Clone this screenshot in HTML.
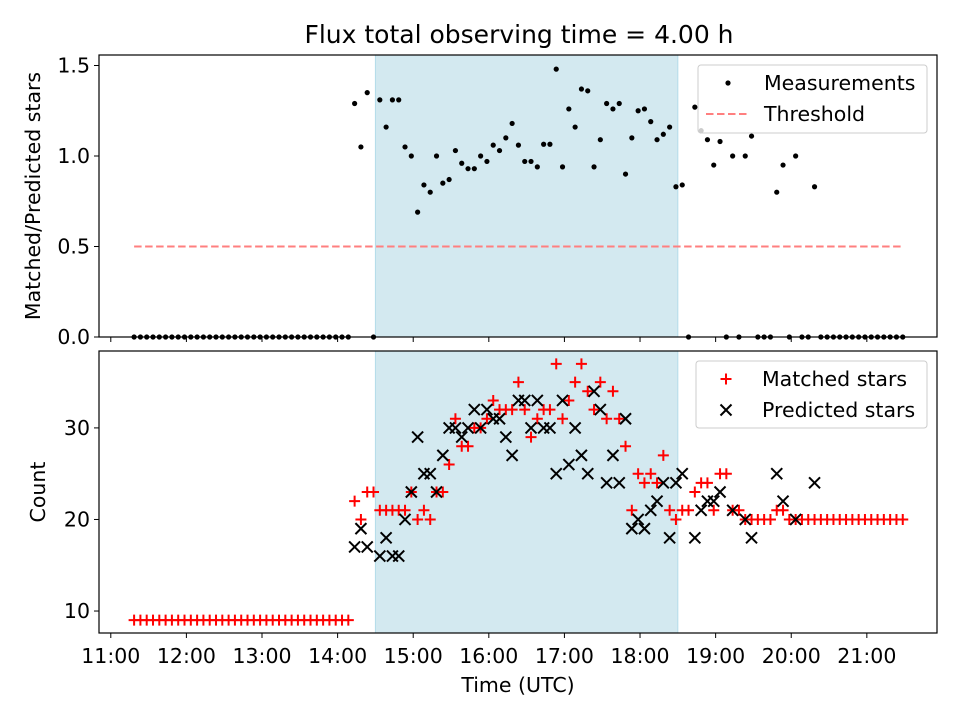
<!DOCTYPE html>
<html><head><meta charset="utf-8"><style>
html,body{margin:0;padding:0;background:#fff;}
svg{display:block;font-family:"DejaVu Sans","Liberation Sans",sans-serif;}
</style></head><body>
<svg id="chart" width="960" height="720" viewBox="0 0 960 720"></svg>
<script>
// ---- data ----
const startMinutes = 678.5;
const stepMinutes = 5;
const spanStart = 14.5, spanEnd = 18.5;
const threshold = 0.5;
const ratioValues = [0,0,0,0,0,0,0,0,0,0,0,0,0,0,0,0,0,0,0,0,0,0,0,0,0,0,0,0,0,0,0,0,0,0,0,
1.29,1.05,1.35,0,1.31,1.16,1.31,1.31,1.05,1.00,0.69,0.84,0.80,1.00,0.85,0.87,1.03,0.96,0.93,0.93,1.00,0.97,1.06,1.03,1.10,1.18,1.06,0.97,0.97,0.94,1.065,1.065,1.48,0.94,1.26,1.16,1.37,1.36,0.94,1.09,1.29,1.26,1.29,0.90,1.10,1.25,1.26,1.19,1.09,1.12,1.16,0.83,0.84,0,1.27,1.14,1.09,0.95,1.08,0,1.00,0,1.00,1.11,0,0,0,0.80,0.95,0,1.00,0,0,0.83,
0,0,0,0,0,0,0,0,0,0,0,0,0,0];
const matchedValues = [9,9,9,9,9,9,9,9,9,9,9,9,9,9,9,9,9,9,9,9,9,9,9,9,9,9,9,9,9,9,9,9,9,9,9,
22,20,23,23,21,21,21,21,21,23,20,21,20,23,23,26,31,28,28,30,30,31,33,32,32,32,35,32,29,31,32,32,37,31,33,35,37,34,32,35,31,34,31,28,21,25,24,25,24,27,21,20,21,21,23,24,24,21,25,25,21,21,20,20,20,20,20,21,21,20,
20,20,20,20,20,20,20,20,20,20,20,20,20,20,20,20,20,20];
const predictedValues = [null,null,null,null,null,null,null,null,null,null,null,null,null,null,null,null,null,null,null,null,null,null,null,null,null,null,null,null,null,null,null,null,null,null,null,
17,19,17,null,16,18,16,16,20,23,29,25,25,23,27,30,30,29,30,32,30,32,31,31,29,27,33,33,30,33,30,30,25,33,26,30,27,25,34,32,24,27,24,31,19,20,19,21,22,24,18,24,25,null,18,21,22,22,23,null,21,null,20,18,null,null,null,25,22,null,20,null,null,24];
const xTickLabels = ["11:00","12:00","13:00","14:00","15:00","16:00","17:00","18:00","19:00","20:00","21:00"];
const xTickHours = [11,12,13,14,15,16,17,18,19,20,21];
const topYTicks = [0.0,0.5,1.0,1.5];
const bottomYTicks = [10,20,30];

// ---- layout ----
const NS="http://www.w3.org/2000/svg";
const svg=document.getElementById('chart');
const L=99,R=937,T1=55,B1=337,T2=351,B2=633;
const FS='20.5';
const xMin=10.844,xMax=21.928;
const xs=h=>L+(h-xMin)/(xMax-xMin)*(R-L);
const ys1=v=>B1-(v-0)/(1.558-0)*(B1-T1);
const ys2=v=>B2-(v-7.6)/(38.4-7.6)*(B2-T2);
const hourAt=i=>(startMinutes+i*stepMinutes)/60;
function el(tag,attrs,parent){const e=document.createElementNS(NS,tag);for(const k in attrs)e.setAttribute(k,attrs[k]);(parent||svg).appendChild(e);return e;}
function txt(s,attrs,parent){const e=el('text',attrs,parent);e.textContent=s;return e;}

const title=txt('Flux total observing time = 4.00 h',{x:519,y:43,'text-anchor':'middle','font-size':'25'});



function panel(T,B,ys,yticks,fmt,name,showXLabels){
  const g=el('g',{});
  
  
  const span=el('rect',{x:xs(spanStart),y:T,width:xs(spanEnd)-xs(spanStart),height:B-T,fill:'#d3e9f0',stroke:'#b4dcea','stroke-width':1},g);
  
  
  xTickHours.forEach((h,i)=>{
    el('line',{x1:xs(h),x2:xs(h),y1:B,y2:B+5,stroke:'#000','stroke-width':1},g);
    if(showXLabels){const t=txt(xTickLabels[i],{x:xs(h),y:B+30,'text-anchor':'middle','font-size':FS},g);
      
      }
  });
  yticks.forEach(v=>{
    el('line',{x1:L-5,x2:L,y1:ys(v),y2:ys(v),stroke:'#000','stroke-width':1},g);
    const t=txt(fmt(v),{x:L-9,y:ys(v)+7,'text-anchor':'end','font-size':FS},g);
    
    
  });
  return g;
}
const g1=panel(T1,B1,ys1,topYTicks,v=>v.toFixed(1),'ratio-panel',false);
const g2=panel(T2,B2,ys2,bottomYTicks,v=>String(v),'count-panel',true);

const th=el('line',{x1:xs(hourAt(0)),x2:xs(hourAt(ratioValues.length-1)),y1:ys1(threshold),y2:ys1(threshold),stroke:'#ff7f7f','stroke-width':2,'stroke-dasharray':'7.5,3.5'},g1);



ratioValues.forEach((v,i)=>{
  const c=el('circle',{cx:xs(hourAt(i)),cy:ys1(v),r:2.6,fill:'#000'},g1);
  
  
});
matchedValues.forEach((v,i)=>{
  if(v==null)return;
  const x=xs(hourAt(i)),y=ys2(v);
  const p=el('path',{d:`M${x-5.5},${y}H${x+5.5}M${x},${y-5.5}V${y+5.5}`,stroke:'#ff0000','stroke-width':2,fill:'none'},g2);
  
  
});
predictedValues.forEach((v,i)=>{
  if(v==null)return;
  const x=xs(hourAt(i)),y=ys2(v);
  const p=el('path',{d:`M${x-5.5},${y-5.5}L${x+5.5},${y+5.5}M${x-5.5},${y+5.5}L${x+5.5},${y-5.5}`,stroke:'#000','stroke-width':2,fill:'none'},g2);
  
  
});

[[T1,B1,'ratio-frame'],[T2,B2,'count-frame']].forEach(([t,b,n])=>{
  const r=el('rect',{x:L,y:t,width:R-L,height:b-t,fill:'none',stroke:'#000','stroke-width':1.2});
  
  
});

const yt1=txt('Matched/Predicted stars',{x:0,y:0,'text-anchor':'middle','font-size':FS,transform:`translate(40,${(T1+B1)/2}) rotate(-90)`});


const yt2=txt('Count',{x:0,y:0,'text-anchor':'middle','font-size':FS,transform:`translate(45,${(T2+B2)/2}) rotate(-90)`});


const xt=txt('Time (UTC)',{x:518,y:692,'text-anchor':'middle','font-size':FS});



function legend(x,y,w,h,entries,name){
  const g=el('g',{});
  
  
  el('rect',{x:x,y:y,width:w,height:h,rx:3,fill:'#fff','fill-opacity':0.8,stroke:'#ccc','stroke-width':1},g);
  entries.forEach((e,i)=>{
    const cy=y+18+i*31;
    const sx=x+30;
    if(e.kind==='dot')el('circle',{cx:sx,cy:cy,r:2.6,fill:'#000'},g);
    if(e.kind==='dash')el('line',{x1:sx-22,x2:sx+22,y1:cy,y2:cy,stroke:'#ff7f7f','stroke-width':2,'stroke-dasharray':'7.5,3.5'},g);
    if(e.kind==='plus')el('path',{d:`M${sx-5.5},${cy}H${sx+5.5}M${sx},${cy-5.5}V${cy+5.5}`,stroke:'#f00','stroke-width':2},g);
    if(e.kind==='x')el('path',{d:`M${sx-5.5},${cy-5.5}L${sx+5.5},${cy+5.5}M${sx-5.5},${cy+5.5}L${sx+5.5},${cy-5.5}`,stroke:'#000','stroke-width':2},g);
    const t=txt(e.label,{x:x+66,y:cy+7,'font-size':FS},g);
    
    
  });
}
legend(698,65,229,68,[{kind:'dot',label:'Measurements'},{kind:'dash',label:'Threshold'}],'ratio-legend');
legend(696,361,231,67,[{kind:'plus',label:'Matched stars'},{kind:'x',label:'Predicted stars'}],'count-legend');
</script>
</body></html>
